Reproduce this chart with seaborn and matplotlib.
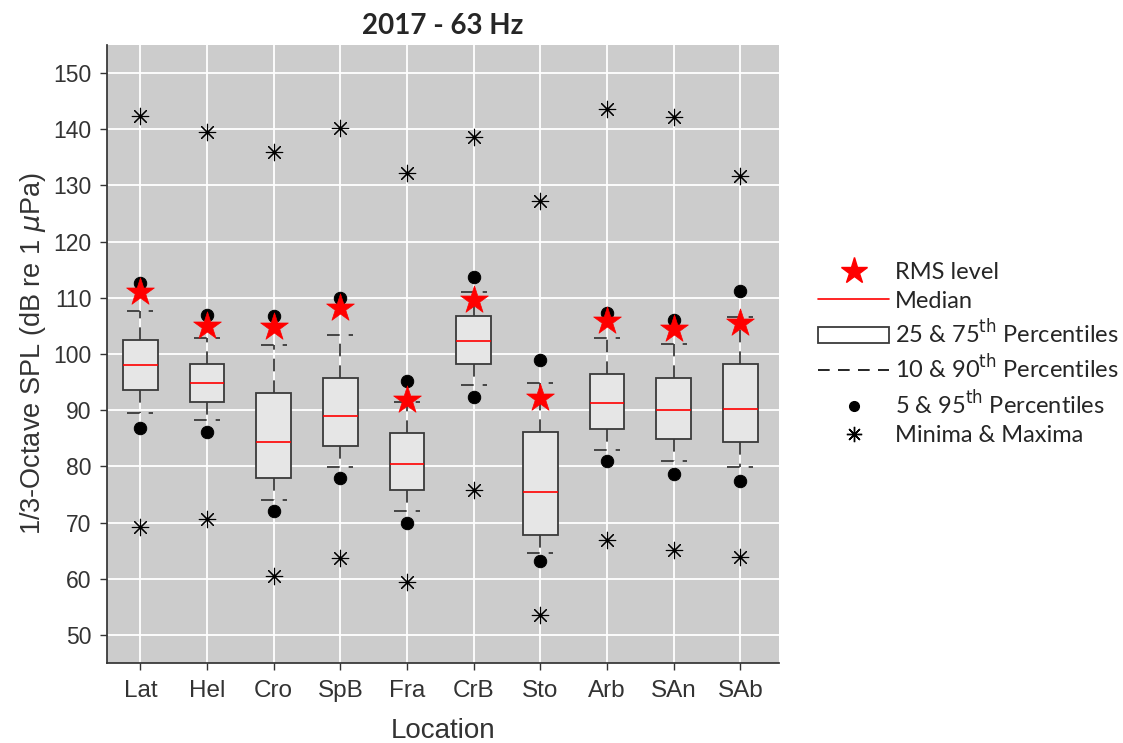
import numpy as np
import pandas as pd
import matplotlib
matplotlib.use("Agg")
import matplotlib.pyplot as plt
from matplotlib.lines import Line2D
from matplotlib.patches import Patch
import seaborn as sns

# values (dB re 1 uPa)
locations = ["Lat", "Hel", "Cro", "SpB", "Fra", "CrB", "Sto", "Arb", "SAn", "SAb"]
minima = [69.2, 70.7, 60.5, 63.6, 59.4, 75.8, 53.6, 66.9, 65.1, 63.8]
p05 = [86.8, 86.2, 72.1, 78.0, 70.0, 92.3, 63.2, 80.9, 78.6, 77.4]
p10 = [89.5, 88.3, 74.0, 79.9, 72.0, 94.4, 64.5, 83.0, 80.9, 79.9]
p25 = [93.6, 91.5, 77.9, 83.6, 75.8, 98.2, 67.8, 86.7, 84.9, 84.4]
median = [98.0, 94.8, 84.3, 89.0, 80.5, 102.4, 75.5, 91.3, 90.0, 90.2]
p75 = [102.5, 98.3, 93.0, 95.8, 85.9, 106.7, 86.2, 96.5, 95.7, 98.3]
p90 = [107.6, 102.8, 101.6, 103.4, 91.4, 111.0, 94.9, 102.8, 101.8, 106.6]
p95 = [112.7, 107.0, 106.7, 109.9, 95.2, 113.7, 98.9, 107.3, 106.0, 111.2]
maxima = [142.3, 139.5, 136.0, 140.2, 132.3, 138.6, 127.3, 143.6, 142.1, 131.6]
rms = [111.0, 105.0, 104.8, 108.2, 91.8, 109.7, 92.2, 105.8, 104.5, 105.5]

df = pd.DataFrame({"Location": locations, "min": minima, "p05": p05, "p10": p10,
                   "p25": p25, "med": median, "p75": p75, "p90": p90,
                   "p95": p95, "max": maxima, "rms": rms})
df["pos"] = np.arange(1, len(df) + 1)

sns.set_theme(style="darkgrid", rc={
    "axes.facecolor": "#cccccc",
    "grid.color": "white",
    "grid.linewidth": 1.3,
    "axes.edgecolor": "#333333",
    "xtick.bottom": True,
    "ytick.left": True,
    "xtick.color": "#333333",
    "ytick.color": "#333333",
    "axes.labelcolor": "#333333",
})
plt.rcParams["font.family"] = ["Liberation Sans", "DejaVu Sans"]

fig = plt.figure(figsize=(11.23, 7.43), dpi=100)
ax = fig.add_axes([0.0953, 0.1077, 0.5984, 0.8317])

dark = "#3a3a3a"
stats = [dict(label=r.Location, whislo=r.p10, q1=r.p25, med=r.med, q3=r.p75,
              whishi=r.p90, fliers=[]) for r in df.itertuples()]
ax.bxp(stats, positions=df["pos"], widths=0.52, capwidths=0.39, patch_artist=True,
       boxprops=dict(facecolor="#e6e6e6", edgecolor=dark, linewidth=1.3),
       medianprops=dict(color="red", linewidth=1.2),
       whiskerprops=dict(color=dark, linewidth=1.3, linestyle=(0, (7, 5))),
       capprops=dict(color=dark, linewidth=1.3, linestyle=(0, (7, 5))),
       manage_ticks=False, zorder=3)

# percentiles, extremes and RMS level
for col in ["p05", "p95"]:
    sns.scatterplot(data=df, x="pos", y=col, ax=ax, color="black", marker="o",
                    s=80, edgecolor="black", zorder=4, legend=False)
for col in ["min", "max"]:
    sns.scatterplot(data=df, x="pos", y=col, ax=ax, color="black", marker=(8, 2, 0),
                    s=140, linewidth=0.8, zorder=4, legend=False)
sns.scatterplot(data=df, x="pos", y="rms", ax=ax, color="red", marker="*",
                s=440, edgecolor="red", linewidth=0.5, zorder=5, legend=False)

ax.set_xlim(0.5, 10.58)
ax.set_ylim(45, 155)
ax.set_yticks(np.arange(50, 151, 10))
ax.set_xticks(df["pos"])
ax.set_xticklabels(locations)
ax.tick_params(axis="both", length=5, width=1, direction="out", pad=6)
ax.tick_params(axis="y", labelsize=16.5)
ax.tick_params(axis="x", labelsize=17.5, pad=7)
for side in ["top", "right"]:
    ax.spines[side].set_visible(False)
ax.set_xlabel("Location", fontsize=20, labelpad=12)
ax.set_ylabel(r"1/3-Octave SPL (dB re 1 $\mu$Pa)", fontsize=19.5, labelpad=4)
ax.set_title("2017 - 63 Hz", fontsize=20, fontweight="bold", family=["Lato", "DejaVu Sans"], pad=8)

handles = [
    Line2D([], [], color="red", marker="*", linestyle="none", markersize=20),
    Line2D([], [], color="red", linewidth=1.2),
    Patch(facecolor="white", edgecolor=dark, linewidth=1.3),
    Line2D([], [], color="black", linewidth=1.2, linestyle=(0, (7, 5))),
    Line2D([], [], color="black", marker="o", linestyle="none", markersize=7),
    Line2D([], [], color="black", marker=(8, 2, 0), linestyle="none", markersize=11),
]
labels = ["RMS level", "Median", r"25 & 75$^{\mathrm{th}}$ Percentiles",
          r"10 & 90$^{\mathrm{th}}$ Percentiles", r"5 & 95$^{\mathrm{th}}$ Percentiles",
          "Minima & Maxima"]
fig.legend(handles, labels, loc="center left", bbox_to_anchor=(0.718, 0.523),
           frameon=False, handlelength=3.0, handletextpad=0.25,
           labelspacing=0.3, borderpad=0, prop={"family": ["Lato", "DejaVu Sans"], "size": 17})

fig.savefig("out.png", dpi=100)
